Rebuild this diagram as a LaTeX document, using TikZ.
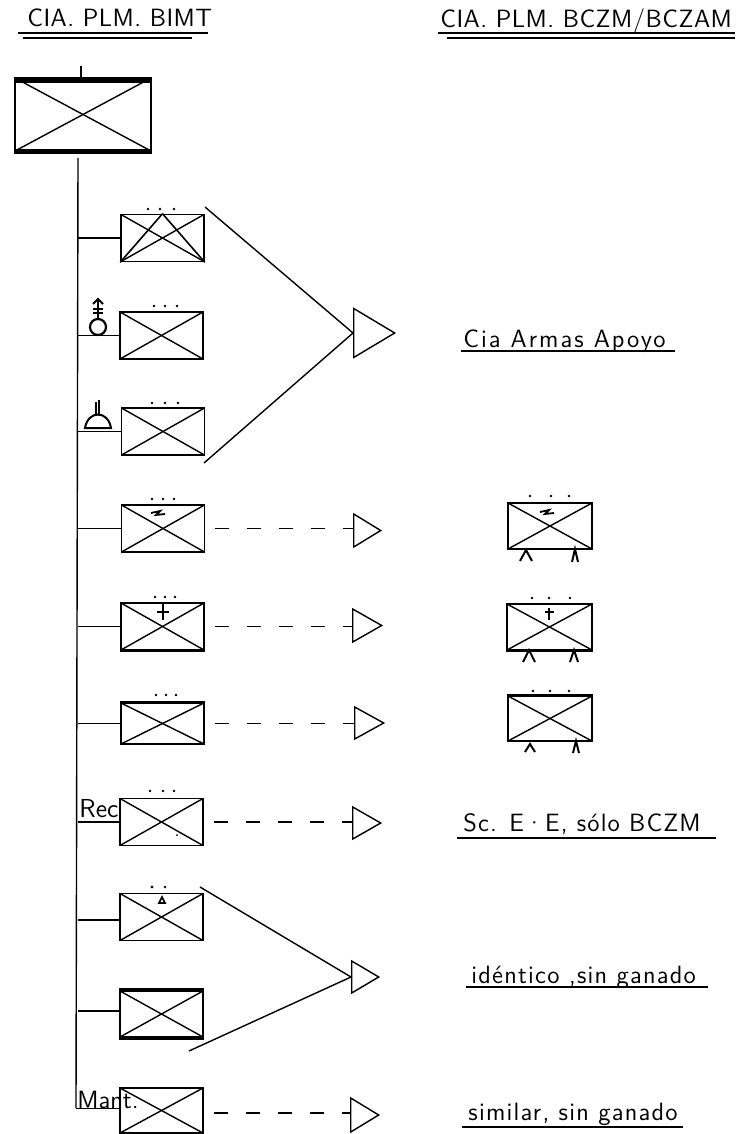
\documentclass[tikz,border=0pt]{standalone}
\usepackage{fontspec}
\setsansfont{Latin Modern Sans}
\usetikzlibrary{shapes.geometric}
\tikzset{
	unitbox/.style={draw, rectangle, inner sep=0, line width=0.8pt, minimum width=41.5pt, minimum height=23.5pt,
		path picture={\draw[line width=0.7pt] (path picture bounding box.north west) -- (path picture bounding box.south east);
			\draw[line width=0.7pt] (path picture bounding box.south west) -- (path picture bounding box.north east);}},
	supply/.style={draw, isosceles triangle, isosceles triangle stretches, inner sep=0, line width=0.7pt, anchor=lower side},
	link/.style={line width=0.7pt},
	dashlink/.style={line width=0.7pt, dash pattern=on 7pt off 9pt, dash phase=11pt},
	heavy/.style={line width=#1},
	lettering/.style={anchor=base west, inner sep=0, font=\sffamily\fontsize{12.5}{12.5}\selectfont}
}
\def\platoondots(#1,#2,#3:#4){\fill (#1,#4) circle (0.7pt); \fill (#2,#4) circle (0.7pt); \fill (#3,#4) circle (0.7pt);}
\def\lightningbolt(#1,#2){\draw[line width=0.9pt] (#1,#2) -- ++(9,-2) -- ++(-4,4) -- ++(9,-1);}
\def\wheelfoot(#1,#2,#3,#4){\draw[line width=1pt] (#1,#4) -- (#2,#3) -- ({2*#2-#1},#4);}
\begin{document}
\begin{tikzpicture}[x=0.5pt, y=-0.5pt]
	%%%%% START %%%%%
	\useasboundingbox (0,0) rectangle (742,1134);
	
	% titles
	\node[lettering] (titleleft) at (27,27) {\addfontfeature{LetterSpace=2}CIA. PLM. BIMT};
	\draw[link] (18,33) -- (208,33);
	\draw[link] (23,38) -- (192,38);
	\node[lettering] (titleright) at (440,28) {\addfontfeature{LetterSpace=2}CIA. PLM. BCZM/BCZAM};
	\draw[link] (438,33) -- (735,33);
	\draw[link] (447,38) -- (735,38);
	
	% company command
	\node[unitbox, minimum width=68pt, minimum height=36.5pt] (hq) at (83,114.5) {};
	\draw[heavy=3pt] ([yshift=-1.25pt]hq.north west) -- ([yshift=-1.25pt]hq.north east);
	\draw[heavy=2.4pt] (hq.south west) -- (hq.south east);
	\coordinate (hqstem) at (81,66);
	\draw[link] (hqstem) -- (hqstem |- hq.north);
	
	% spine
	\coordinate (spinetop) at (78,158);
	\coordinate (spinebot) at (76,1108);
	\draw[link] (spinetop) -- (spinebot);
	
	% platoons of the left column
	\node[unitbox] (mortar) at (162.5,238) {};
	\node[unitbox] (antitank) at (161.5,335.5) {};
	\node[unitbox] (heavy) at (163,431.5) {};
	\node[unitbox] (signal) at (163,528.5) {};
	\node[unitbox] (medic) at (162.5,626.5) {};
	\node[unitbox, minimum height=20.5pt] (pioneer) at (162.5,723.5) {};
	\node[unitbox] (recon) at (161.5,822) {};
	\node[unitbox] (supplyp) at (161.5,917) {};
	\node[unitbox, minimum height=23pt] (transport) at (161.5,1014) {};
	\node[unitbox, minimum height=22.5pt] (maint) at (161.5,1110.5) {};
	
	\draw[link] (spinetop |- mortar.west) -- (mortar.west);
	\draw[link] (spinetop |- antitank.west) -- (antitank.west);
	\draw[link] (spinetop |- heavy.west) -- (heavy.west);
	\draw[link] (spinetop |- signal.west) -- (signal.west);
	\draw[link] (spinetop |- medic.west) -- (medic.west);
	\draw[link] (spinetop |- pioneer.west) -- (pioneer.west);
	\draw[link] (spinetop |- recon.west) -- (recon.west);
	\draw[link] ([yshift=-1.5pt]spinetop |- supplyp.west) -- ([yshift=-1.5pt]supplyp.west);
	\draw[link] ([yshift=1.5pt]spinetop |- transport.west) -- ([yshift=1.5pt]transport.west);
	\draw[link] ([yshift=1pt]spinebot |- maint.west) -- ([yshift=1pt]maint.west);
	
	% marks on the boxes
	\platoondots(148,160,174:209)
	\draw[line width=0.8pt] (mortar.north) -- (mortar.south west);
	\draw[line width=0.8pt] (mortar.north) -- (mortar.south east);
	\platoondots(154,165,177:306)
	\platoondots(152,165,178:403)
	\platoondots(152,163,174:499)
	\lightningbolt(151,513)
	\platoondots(155,165,175:597)
	\draw[line width=1pt] (157,612) -- (169,612);
	\draw[line width=1pt] (163,604) -- (163,620);
	\draw[heavy=1.6pt] (medic.south west) -- (medic.south east);
	\platoondots(156,166,176:695)
	\draw[heavy=1.6pt] (pioneer.north west) -- (pioneer.north east);
	\platoondots(150,163,174:791)
	\fill (177,835) circle (0.5pt);
	\platoondots(152,165,152:887)
	\draw[line width=0.8pt] (162,897) -- (165,903) -- (159,903) -- cycle;
	\draw[heavy=2pt] (transport.north west) -- (transport.north east);
	\draw[heavy=2.2pt] (transport.south west) -- (transport.south east);
	
	% symbols beside the spine
	\draw[line width=1.1pt] (98,327) circle (4pt);
	\draw[line width=1pt] (98,319) -- (98,299);
	\draw[line width=1pt] (93,304) -- (98,299) -- (103,304);
	\draw[line width=1pt] (93,309) -- (103,309);
	\draw[line width=1pt] (93,313) -- (103,313);
	\draw[line width=1pt] (85,428) .. controls (88,410) and (108,410) .. (111,428) -- cycle;
	\draw[line width=0.9pt] (96,402) -- (96,414);
	\draw[line width=0.9pt] (99,400) -- (99,416);
	
	\node[lettering, font=\sffamily\fontsize{13}{13}\selectfont] (reclabel) at (79,817) {Rec};
	\node[lettering, font=\sffamily\fontsize{12.5}{12.5}\selectfont] (mantlabel) at (77,1108) {Mant.};
	
	% triangles
	\node[supply, minimum width=24.5pt, minimum height=20.5pt] (armas) at (353,333) {};
	\node[supply, minimum width=16.5pt, minimum height=13.5pt] (tsignal) at (353,530.5) {};
	\node[supply, minimum width=16.5pt, minimum height=14.5pt] (tmedic) at (352,625.5) {};
	\node[supply, minimum width=16pt, minimum height=14.5pt] (tpioneer) at (354,723) {};
	\node[supply, minimum width=16pt, minimum height=14pt] (trecon) at (352,823) {};
	\node[supply, minimum width=16pt, minimum height=13.5pt] (tsupply) at (351,977) {};
	\node[supply, minimum width=17pt, minimum height=14pt] (tmaint) at (350,1115) {};
	
	\coordinate (armastop) at (205,207);
	\coordinate (armasbot) at (204,463);
	\draw[link] (armastop) -- (armas.lower side) -- (armasbot);
	\coordinate (supplytop) at (200,887);
	\coordinate (supplybot) at (189,1051);
	\draw[link] (supplytop) -- (tsupply.lower side) -- (supplybot);
	
	\draw[dashlink] (signal.east) -- (signal.east -| tsignal.lower side);
	\draw[dashlink] (medic.east) -- (medic.east -| tmedic.lower side);
	\draw[dashlink] (pioneer.east) -- (pioneer.east -| tpioneer.lower side);
	\draw[dashlink] (recon.east) -- (recon.east -| trecon.lower side);
	\draw[dashlink] ([yshift=-1.25pt]maint.east) -- ([yshift=-1.25pt]maint.east -| tmaint.lower side);
	
	% right column
	\node[lettering] (armastext) at (463,347) {\addfontfeature{LetterSpace=8}Cia Armas Apoyo};
	\draw[link] (461,351) -- (675,351);
	
	\node[unitbox, minimum width=42pt, minimum height=23pt] (rsignal) at (550,526) {};
	\platoondots(530,551,569:496)
	\lightningbolt(540,512)
	\wheelfoot(520,526,550,561)
	\wheelfoot(572,575,549,562)
	
	\node[unitbox, minimum width=42.5pt, minimum height=23pt] (rmedic) at (549.5,627) {};
	\platoondots(532,549,570:598)
	\draw[line width=1pt] (545,612) -- (554,612);
	\draw[line width=1pt] (549,608) -- (549,620);
	\draw[heavy=1.6pt] (rmedic.south west) -- (rmedic.south east);
	\wheelfoot(523,529,650,662)
	\wheelfoot(570,574,650,662)
	
	\node[unitbox, minimum width=42pt, minimum height=22.5pt] (rpioneer) at (550,718.5) {};
	\platoondots(533,550,569:691)
	\draw[heavy=1.5pt] (rpioneer.north west) -- (rpioneer.north east);
	\wheelfoot(525,530,744,752)
	\wheelfoot(573,576,741,753)
	
	\node[lettering] (recontext) at (463,831) {\addfontfeature{LetterSpace=4.5}Sc. E·E, sólo BCZM};
	\draw[link] (457,838) -- (716,838);
	\node[lettering] (supplytext) at (471,983) {\addfontfeature{LetterSpace=5}idéntico ,sin ganado};
	\draw[link] (466,987) -- (708,987);
	\node[lettering] (mainttext) at (468,1120) {\addfontfeature{LetterSpace=5}similar, sin ganado};
	\draw[link] (462,1127) -- (683,1127);
	
	%%%%% END %%%%%
\end{tikzpicture}
\end{document}
